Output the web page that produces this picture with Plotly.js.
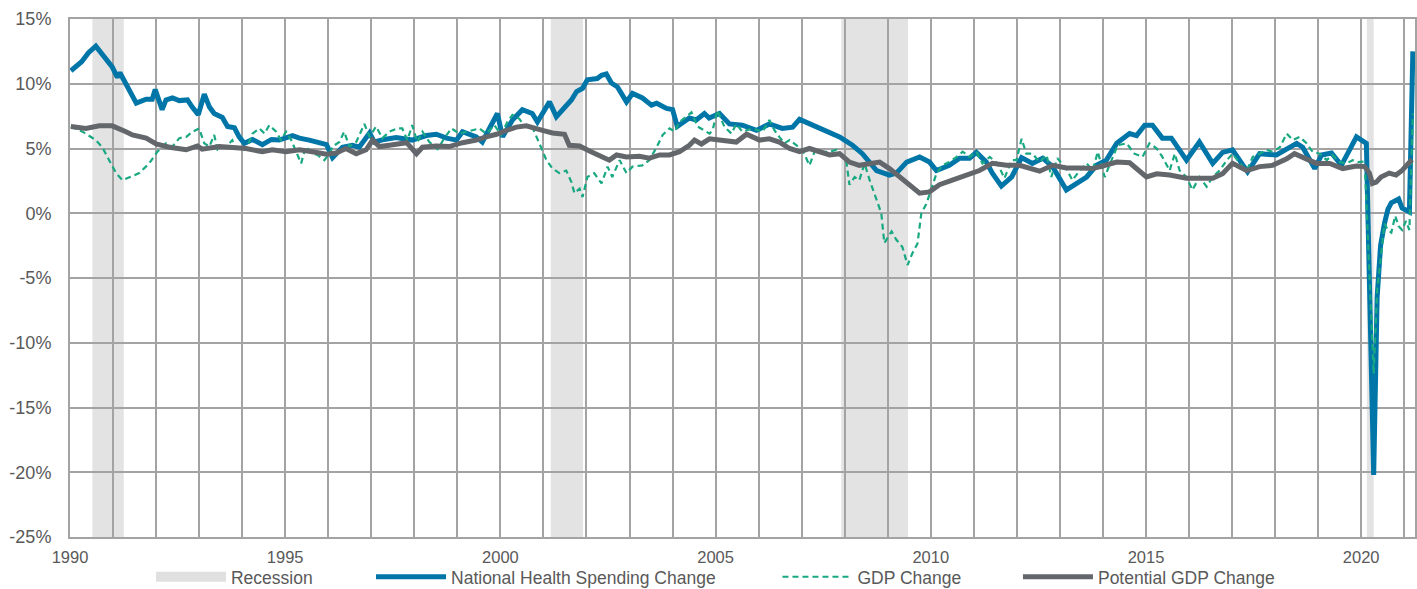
<!DOCTYPE html>
<html><head><meta charset="utf-8">
<script src="https://cdn.plot.ly/plotly-3.0.1.min.js"></script>
<style>html,body{margin:0;padding:0;background:#fff}#chart{width:1417px;height:589px}</style>
</head><body><div id="chart"></div>
<script>
// ---- Data (x = decimal year) ----
const recStart = [1990.52, 2001.17, 2007.92, 2020.13];
const recEnd   = [1991.25, 2001.92, 2009.47, 2020.29];

const nhsX = [1990.02,1990.27,1990.43,1990.60,1990.98,1991.10,1991.16,1991.26,1991.42,1991.54,1991.77,1991.91,1991.98,1992.14,1992.23,1992.38,1992.54,1992.73,1992.84,1992.98,1993.12,1993.24,1993.35,1993.54,1993.66,1993.82,1993.93,1994.05,1994.24,1994.47,1994.68,1994.86,1995.17,1995.33,1995.56,1995.79,1995.96,1996.10,1996.33,1996.56,1996.72,1996.96,1997.07,1997.30,1997.58,1997.95,1998.28,1998.51,1998.75,1998.98,1999.12,1999.44,1999.58,1999.93,2000.05,2000.28,2000.51,2000.74,2000.86,2001.14,2001.30,2001.65,2001.77,2001.91,2002.02,2002.25,2002.35,2002.46,2002.58,2002.72,2002.93,2003.07,2003.30,2003.51,2003.63,2003.86,2004.00,2004.11,2004.39,2004.55,2004.74,2004.85,2005.09,2005.32,2005.62,2005.95,2006.25,2006.55,2006.79,2006.95,2007.25,2007.58,2007.88,2008.18,2008.41,2008.74,2009.04,2009.20,2009.44,2009.74,2009.97,2010.13,2010.43,2010.67,2010.90,2011.06,2011.29,2011.43,2011.64,2011.88,2012.11,2012.36,2012.60,2012.83,2013.15,2013.39,2013.62,2013.85,2014.08,2014.32,2014.62,2014.78,2014.97,2015.15,2015.38,2015.59,2015.94,2016.24,2016.55,2016.78,2017.01,2017.36,2017.64,2018.03,2018.50,2018.64,2018.92,2019.08,2019.31,2019.54,2019.73,2019.89,2020.12,2020.29,2020.37,2020.45,2020.54,2020.62,2020.70,2020.79,2020.87,2020.95,2021.04,2021.12,2021.20];
const nhsY = [11.0,11.7,12.4,12.9,11.3,10.5,10.85,10.2,9.1,8.5,8.8,8.8,9.55,8.0,8.75,8.9,8.7,8.75,8.2,7.6,9.2,8.2,7.7,7.4,6.7,6.6,5.9,5.4,5.7,5.3,5.7,5.65,6.0,5.8,5.65,5.5,5.3,4.3,5.1,5.25,5.1,6.2,5.5,5.7,5.85,5.65,6.0,6.1,5.8,5.65,6.3,5.9,5.5,7.7,5.9,7.2,8.0,7.7,7.05,8.6,7.45,8.75,9.4,9.65,10.3,10.4,10.65,10.75,10.05,9.75,8.6,9.25,8.9,8.35,8.5,8.1,8.0,6.7,7.35,7.2,7.7,7.35,7.7,6.9,6.8,6.4,6.9,6.55,6.65,7.25,6.8,6.4,5.9,5.25,4.6,3.3,2.95,3.1,3.95,4.35,3.95,3.3,3.7,4.25,4.25,4.7,3.95,3.1,2.1,2.8,4.3,3.85,4.25,3.6,1.8,2.3,2.8,3.7,4.1,5.4,6.15,6.0,6.8,6.8,5.8,5.8,4.1,5.5,3.85,4.7,4.9,3.2,4.6,4.5,5.4,5.1,3.45,4.5,4.65,3.7,5.0,5.9,5.4,-20.2,-6.5,-2.5,-0.8,0.3,0.8,1.0,1.1,0.4,0.2,0.1,12.5];

const gdpX = [1990.02,1990.29,1990.60,1990.75,1990.91,1991.07,1991.22,1991.38,1991.61,1991.84,1992.03,1992.23,1992.38,1992.54,1992.70,1992.85,1993.00,1993.12,1993.24,1993.35,1993.43,1993.63,1993.77,1993.86,1994.09,1994.24,1994.40,1994.52,1994.63,1994.79,1994.90,1995.02,1995.14,1995.37,1995.48,1995.64,1995.75,1995.91,1996.03,1996.10,1996.26,1996.37,1996.49,1996.65,1996.84,1996.96,1997.11,1997.26,1997.42,1997.61,1997.72,1997.84,1997.95,1998.07,1998.19,1998.35,1998.54,1998.70,1998.86,1999.05,1999.21,1999.35,1999.51,1999.67,1999.86,2000.02,2000.16,2000.28,2000.44,2000.56,2000.72,2000.84,2000.96,2001.07,2001.21,2001.37,2001.53,2001.65,2001.72,2001.84,2001.91,2002.02,2002.18,2002.35,2002.49,2002.60,2002.77,2002.93,2003.07,2003.30,2003.46,2003.63,2003.77,2003.93,2004.05,2004.16,2004.32,2004.44,2004.58,2004.74,2004.86,2004.93,2005.04,2005.21,2005.37,2005.48,2005.62,2005.86,2006.09,2006.25,2006.37,2006.48,2006.60,2006.72,2006.88,2007.02,2007.18,2007.30,2007.48,2007.65,2007.81,2008.04,2008.11,2008.23,2008.34,2008.46,2008.58,2008.74,2008.85,2008.92,2009.09,2009.20,2009.34,2009.46,2009.57,2009.69,2009.78,2009.90,2010.01,2010.13,2010.27,2010.43,2010.60,2010.74,2010.90,2011.06,2011.20,2011.37,2011.55,2011.71,2011.88,2011.99,2012.11,2012.22,2012.36,2012.53,2012.69,2012.80,2012.94,2013.15,2013.29,2013.46,2013.62,2013.76,2013.88,2014.04,2014.20,2014.34,2014.55,2014.73,2014.92,2015.08,2015.25,2015.38,2015.55,2015.67,2015.78,2015.94,2016.08,2016.24,2016.41,2016.55,2016.71,2016.88,2017.01,2017.18,2017.34,2017.48,2017.64,2017.80,2017.94,2018.11,2018.27,2018.41,2018.57,2018.73,2018.87,2019.03,2019.20,2019.33,2019.50,2019.66,2019.80,2019.92,2020.08,2020.29,2020.37,2020.45,2020.54,2020.62,2020.70,2020.79,2020.87,2020.95,2021.04,2021.12,2021.20];
const gdpY = [6.7,6.3,5.65,5.1,4.1,3.1,2.55,2.8,3.1,3.85,4.75,5.4,5.15,5.8,5.9,6.3,6.55,5.4,5.15,6.05,4.9,5.15,5.65,5.0,4.9,6.15,6.55,6.15,6.8,6.3,5.65,6.3,5.65,3.85,5.15,4.6,4.5,4.1,4.6,5.15,5.5,6.3,5.15,5.5,6.9,5.9,6.7,5.8,6.3,6.55,6.55,5.65,6.8,5.5,6.3,5.5,4.95,5.8,6.55,6.15,6.3,6.4,6.55,6.15,6.8,6.05,7.05,7.6,7.3,6.7,6.8,5.9,4.9,4.1,3.45,3.1,3.3,2.4,1.55,1.9,1.25,2.8,3.1,2.3,3.6,2.8,4.1,3.1,3.6,3.7,4.1,5.1,6.05,6.55,6.3,7.05,7.45,7.8,6.7,6.4,6.15,6.4,7.95,6.65,6.15,6.9,6.3,6.55,6.3,7.2,6.4,5.9,5.4,5.65,5.25,4.9,3.7,4.75,4.75,4.75,4.9,3.95,2.2,2.8,2.55,3.85,2.55,1.0,0.0,-2.3,-1.4,-2.05,-2.6,-4.0,-3.1,-2.35,0.0,0.75,1.8,3.05,3.7,3.95,4.35,4.75,4.35,4.75,3.85,4.35,3.85,2.7,4.1,4.1,5.75,4.6,4.6,3.95,4.5,2.8,4.25,3.45,2.55,3.3,3.85,3.3,4.75,2.8,4.1,5.25,5.4,4.6,4.35,5.4,5.0,4.35,3.3,4.6,3.3,2.8,1.8,2.8,2.05,2.8,3.3,4.1,4.6,3.85,3.3,4.35,4.6,4.9,4.75,5.1,6.15,5.65,5.9,5.4,4.75,4.6,4.1,4.5,3.95,3.85,4.1,3.95,4.0,-12.4,-6.0,-3.4,-0.8,-1.3,-1.5,-0.2,-1.0,-1.3,-0.6,-1.3,7.7];

const potX = [1990.02,1990.37,1990.68,1990.98,1991.30,1991.45,1991.77,1992.00,1992.31,1992.70,1992.96,1993.07,1993.47,1993.77,1994.09,1994.47,1994.70,1995.02,1995.33,1995.63,1995.96,1996.18,1996.41,1996.65,1996.88,1997.03,1997.19,1997.42,1997.82,1998.05,1998.19,1998.51,1998.81,1999.12,1999.44,1999.67,1999.91,2000.14,2000.37,2000.60,2000.74,2000.98,2001.21,2001.49,2001.60,2001.84,2002.07,2002.30,2002.53,2002.70,2002.93,2003.23,2003.46,2003.70,2003.93,2004.16,2004.39,2004.51,2004.67,2004.86,2005.25,2005.48,2005.72,2006.02,2006.25,2006.48,2006.72,2006.95,2007.18,2007.41,2007.65,2007.88,2008.11,2008.34,2008.58,2008.81,2009.04,2009.27,2009.51,2009.74,2009.97,2010.20,2010.50,2010.83,2011.13,2011.43,2011.76,2012.06,2012.53,2012.83,2013.15,2013.46,2013.76,2013.99,2014.32,2014.62,2015.01,2015.25,2015.55,2015.94,2016.24,2016.55,2016.78,2017.01,2017.34,2017.64,2017.94,2018.27,2018.45,2018.73,2018.96,2019.27,2019.57,2019.89,2020.08,2020.19,2020.26,2020.35,2020.46,2020.65,2020.81,2020.95,2021.11,2021.18];
const potY = [6.7,6.55,6.75,6.75,6.3,6.05,5.8,5.35,5.1,4.9,5.2,4.95,5.15,5.05,5.0,4.75,4.9,4.75,4.9,4.75,4.55,4.65,5.0,4.6,4.9,5.65,5.15,5.25,5.45,4.6,5.1,5.2,5.15,5.45,5.65,5.9,6.1,6.4,6.65,6.75,6.65,6.4,6.2,6.1,5.25,5.2,4.8,4.5,4.1,4.5,4.35,4.4,4.25,4.5,4.5,4.75,5.25,5.65,5.35,5.75,5.65,5.5,6.1,5.65,5.75,5.5,5.0,4.75,5.0,4.75,4.5,4.6,3.95,3.7,3.85,3.95,3.45,2.8,2.1,1.55,1.65,2.2,2.55,2.95,3.3,3.85,3.7,3.7,3.25,3.7,3.5,3.5,3.45,3.65,3.95,3.9,2.8,3.05,2.95,2.7,2.7,2.7,3.05,3.85,3.3,3.6,3.7,4.2,4.6,4.2,3.85,3.85,3.45,3.65,3.6,3.1,2.3,2.4,2.8,3.1,2.95,3.3,3.85,4.15];

const yearTicks = [1990,1991,1992,1993,1994,1995,1996,1997,1998,1999,2000,2001,2002,2003,2004,2005,2006,2007,2008,2009,2010,2011,2012,2013,2014,2015,2016,2017,2018,2019,2020,2021];
const yearLabels = ['1990','','','','','1995','','','','','2000','','','','','2005','','','','','2010','','','','','2015','','','','','2020',''];
const yTickVals = [-25,-20,-15,-10,-5,0,5,10,15];
const yTickText = ['-25%','-20%','-15%','-10%','-5%','0%','5%','10%','15%'];

const names = ['Recession','National Health Spending Change','GDP Change','Potential GDP Change'];

// ---- Styling ----
const FONT = '"Liberation Sans", Arial, sans-serif';
const TXT = '#595959';
const GRID = '#a3a3a3';
const C_REC = '#e0e0e0', C_NHS = '#0076a8', C_GDP = '#18a882', C_POT = '#63666a';

const traces = [
  {x:[null], y:[null], type:'scatter', mode:'lines', name:names[0], legend:'legend',
   line:{color:C_REC, width:11}, hoverinfo:'skip'},
  {x:nhsX, y:nhsY, type:'scatter', mode:'lines', name:names[1], legend:'legend2',
   line:{color:C_NHS, width:5}},
  {x:gdpX, y:gdpY, type:'scatter', mode:'lines', name:names[2], legend:'legend3',
   line:{color:C_GDP, width:2.2, dash:'6px,4px'}},
  {x:potX, y:potY, type:'scatter', mode:'lines', name:names[3], legend:'legend4',
   line:{color:C_POT, width:5}}
];

const shapes = recStart.map((s,i)=>({type:'rect', xref:'x', yref:'paper', x0:s, x1:recEnd[i], y0:0, y1:1,
  fillcolor:'#dcdcdc', opacity:0.8, line:{width:0}, layer:'between'}));

function lg(x){ return {orientation:'h', x:x, xanchor:'left', y:-0.077, yanchor:'middle',
  font:{family:FONT, size:17.5, color:TXT}, bgcolor:'rgba(0,0,0,0)', itemwidth:70, tracegroupgap:0}; }

const layout = {
  width:1417, height:589,
  margin:{l:70, r:2, t:19, b:52, autoexpand:false},
  paper_bgcolor:'#fff', plot_bgcolor:'#fff',
  font:{family:FONT, color:TXT},
  showlegend:true,
  legend:lg(0.0602), legend2:lg(0.2238), legend3:lg(0.5260), legend4:lg(0.7048),
  xaxis:{range:[1990,2021.25], tickmode:'array', tickvals:yearTicks, ticktext:yearLabels,
    showgrid:true, gridcolor:GRID, gridwidth:2, zeroline:false, automargin:false,
    showline:true, linecolor:GRID, linewidth:2, mirror:true, ticks:'',
    tickfont:{family:FONT, size:16.5, color:TXT}, ticklabelstandoff:4},
  yaxis:{range:[-25,15], tickmode:'array', tickvals:yTickVals, ticktext:yTickText,
    showgrid:true, gridcolor:GRID, gridwidth:2, zeroline:false, automargin:false,
    showline:true, linecolor:GRID, linewidth:2, mirror:true, ticks:'',
    tickfont:{family:FONT, size:18, color:TXT}, ticklabelstandoff:13},
  shapes:shapes
};

Plotly.newPlot('chart', traces, layout, {displayModeBar:false, staticPlot:true});
</script></body></html>
